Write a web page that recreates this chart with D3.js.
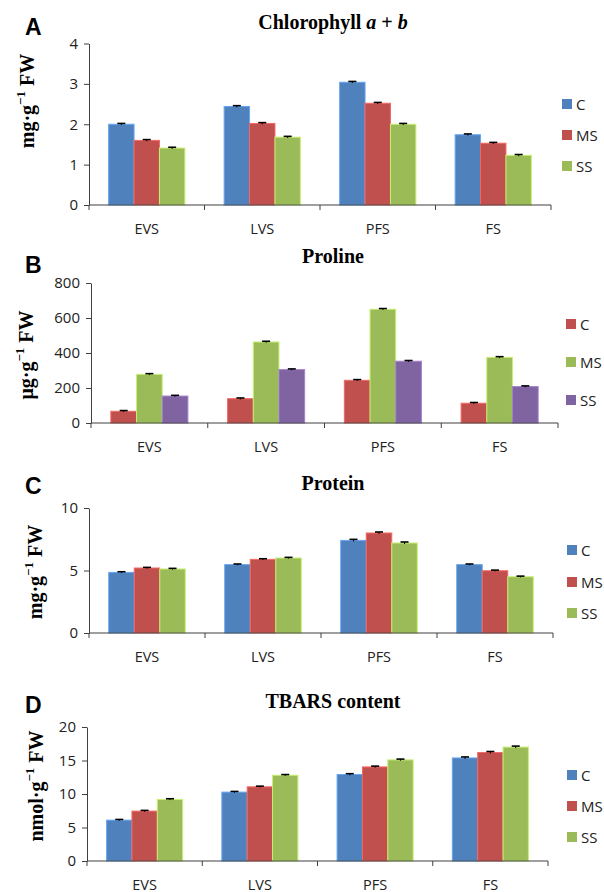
<!DOCTYPE html>
<html>
<head>
<meta charset="utf-8">
<script src="https://cdn.jsdelivr.net/npm/d3@7"></script>
<style>
  body { margin: 0; background: #fff; }
  svg { display: block; }
</style>
</head>
<body>
<svg id="chart" width="604" height="892"></svg>
<script>
'use strict';

var stages = ['EVS', 'LVS', 'PFS', 'FS'];
var seriesNames = ['C', 'MS', 'SS'];

// A: chlorophyll a + b (mg/g FW)
var chlC = [2.0, 2.44, 3.04, 1.74];
var chlMS = [1.6, 2.02, 2.52, 1.53];
var chlSS = [1.41, 1.68, 2.0, 1.23];
var chlErr = [0.02, 0.02, 0.02, 0.02];
var chlTicks = [0, 1, 2, 3, 4];

// B: proline (ug/g FW)
var proC = [67, 139, 244, 113];
var proMS = [278, 463, 650, 375];
var proSS = [154, 305, 353, 208];
var proErr = [4, 4, 4, 4];
var proTicks = [0, 200, 400, 600, 800];

// C: protein (mg/g FW)
var protC = [4.85, 5.47, 7.41, 5.47];
var protMS = [5.2, 5.89, 8.0, 4.98];
var protSS = [5.12, 6.0, 7.2, 4.5];
var protErr = [0.05, 0.05, 0.08, 0.05];
var protTicks = [0, 5, 10];

// D: TBARS content (nmol/g FW)
var tbC = [6.1, 10.28, 12.91, 15.38];
var tbMS = [7.45, 11.07, 14.04, 16.19];
var tbSS = [9.19, 12.8, 15.09, 17.0];
var tbErr = [0.1, 0.1, 0.12, 0.15];
var tbTicks = [0, 5, 10, 15, 20];

var blue = '#4F81BD';
var red = '#C0504D';
var green = '#9BBB59';
var purple = '#8064A2';

var svg = d3.select('#chart');

var panels = [
    {
        letter: 'A', title: [['Chlorophyll ', false], ['a', true], [' + ', false], ['b', true]],
        unit: 'mg·g', series: [chlC, chlMS, chlSS], err: chlErr, ticks: chlTicks,
        colors: [blue, red, green],
        x0: 89, x1: 551, yTop: 43.5, yBot: 205, titleY: 29, letterY: 35,
        labelX: 27, labelY: 101, legendX: 562, legendY: [104, 135, 166]
    },
    {
        letter: 'B', title: [['Proline', false]],
        unit: 'μg·g', series: [proC, proMS, proSS], err: proErr, ticks: proTicks,
        colors: [red, green, purple],
        x0: 91, x1: 558, yTop: 283, yBot: 423, titleY: 263, letterY: 273,
        labelX: 26, labelY: 355, legendX: 566, legendY: [324, 362, 400]
    },
    {
        letter: 'C', title: [['Protein', false]],
        unit: 'mg·g', series: [protC, protMS, protSS], err: protErr, ticks: protTicks,
        colors: [blue, red, green],
        x0: 89, x1: 553, yTop: 508, yBot: 633, titleY: 490, letterY: 494,
        labelX: 35, labelY: 572, legendX: 567, legendY: [550, 582, 613]
    },
    {
        letter: 'D', title: [['TBARS content', false]],
        unit: 'nmol·g', series: [tbC, tbMS, tbSS], err: tbErr, ticks: tbTicks,
        colors: [blue, red, green],
        x0: 87, x1: 548, yTop: 727, yBot: 861, titleY: 708, letterY: 713,
        labelX: 36, labelY: 786, legendX: 567, legendY: [775, 806, 837]
    }
];

var axisColor = '#404040';
var sansFont = '"Open Sans", "Noto Sans", sans-serif';
var serifFont = '"Liberation Serif", "Times New Roman", serif';

panels.forEach(function (p) {
    var g = svg.append('g');

    var x = d3.scaleBand().domain(stages).range([p.x0, p.x1]).padding(0);
    var bw = x.bandwidth();
    var xSub = d3.scaleBand().domain(seriesNames).range([bw * 0.17, bw * 0.83]).padding(0);
    var y = d3.scaleLinear().domain([0, d3.max(p.ticks)]).range([p.yBot, p.yTop]);

    // bars
    p.series.forEach(function (vals, si) {
        var col = p.colors[si];
        var sg = g.append('g');
        sg.selectAll('rect')
            .data(vals)
            .join('rect')
            .attr('x', function (d, i) { return x(stages[i]) + xSub(seriesNames[si]); })
            .attr('y', function (d) { return y(d); })
            .attr('width', xSub.bandwidth())
            .attr('height', function (d) { return y(0) - y(d); })
            .attr('fill', col)
            .attr('stroke', d3.color(col).brighter(0.7))
            .attr('stroke-width', 1);

        // error bars
        vals.forEach(function (d, i) {
            var cx = x(stages[i]) + xSub(seriesNames[si]) + xSub.bandwidth() / 2;
            var e = p.err[i];
            sg.append('line')
                .attr('x1', cx).attr('x2', cx)
                .attr('y1', y(d - e)).attr('y2', y(d + e))
                .attr('stroke', '#000').attr('stroke-width', 1);
            sg.append('line')
                .attr('x1', cx - 4).attr('x2', cx + 4)
                .attr('y1', y(d + e)).attr('y2', y(d + e))
                .attr('stroke', '#000').attr('stroke-width', 1.6);
        });
    });

    // y axis
    var yAxis = g.append('g')
        .attr('transform', 'translate(' + p.x0 + ',0)')
        .call(d3.axisLeft(y).tickValues(p.ticks).tickFormat(d3.format('d'))
            .tickSize(5).tickSizeOuter(0).tickPadding(6));
    yAxis.select('.domain').attr('stroke', axisColor);
    yAxis.selectAll('.tick line').attr('stroke', axisColor);
    yAxis.selectAll('.tick text')
        .attr('fill', '#222')
        .style('font-family', sansFont)
        .style('font-size', '15px');

    // x axis
    var xg = g.append('g');
    xg.append('line')
        .attr('x1', p.x0).attr('x2', p.x1)
        .attr('y1', p.yBot).attr('y2', p.yBot)
        .attr('stroke', axisColor).attr('stroke-width', 1.2);
    var bounds = stages.map(function (s) { return x(s); }).concat([p.x1]);
    xg.selectAll('line.tk')
        .data(bounds)
        .join('line')
        .attr('class', 'tk')
        .attr('x1', function (d) { return d; })
        .attr('x2', function (d) { return d; })
        .attr('y1', p.yBot).attr('y2', p.yBot + 5)
        .attr('stroke', axisColor);
    xg.selectAll('text')
        .data(stages)
        .join('text')
        .attr('x', function (d) { return x(d) + bw / 2; })
        .attr('y', p.yBot + 23)
        .attr('text-anchor', 'middle')
        .attr('dominant-baseline', 'central')
        .attr('fill', '#222')
        .style('font-family', sansFont)
        .style('font-size', '14.5px')
        .text(function (d) { return d; });

    // title
    var t = g.append('text')
        .attr('x', 333)
        .attr('y', p.titleY)
        .attr('text-anchor', 'middle')
        .style('font-family', serifFont)
        .style('font-weight', 'bold')
        .style('font-size', '20px');
    p.title.forEach(function (part) {
        t.append('tspan')
            .style('font-style', part[1] ? 'italic' : 'normal')
            .text(part[0]);
    });

    // panel letter
    g.append('text')
        .attr('x', 25)
        .attr('y', p.letterY)
        .style('font-family', '"Liberation Sans", Arial, sans-serif')
        .style('font-weight', 'bold')
        .style('font-size', '23px')
        .text(p.letter);

    // y label
    var yl = g.append('text')
        .attr('transform', 'translate(' + p.labelX + ',' + p.labelY + ') rotate(-90)')
        .attr('text-anchor', 'middle')
        .attr('dominant-baseline', 'central')
        .style('font-family', serifFont)
        .style('font-weight', 'bold')
        .style('font-size', '20px');
    yl.append('tspan').text(p.unit);
    yl.append('tspan').attr('dy', -7).style('font-size', '13px').text('−1');
    yl.append('tspan').attr('dy', 7).text(' FW');

    // legend
    var lg = g.append('g');
    seriesNames.forEach(function (name, i) {
        lg.append('rect')
            .attr('x', p.legendX)
            .attr('y', p.legendY[i] - 5)
            .attr('width', 10).attr('height', 10)
            .attr('fill', p.colors[i]);
        lg.append('text')
            .attr('x', p.legendX + 14)
            .attr('y', p.legendY[i])
            .attr('dominant-baseline', 'central')
            .attr('fill', '#222')
            .style('font-family', sansFont)
            .style('font-size', '15px')
            .text(name);
    });
});
</script>
</body>
</html>
